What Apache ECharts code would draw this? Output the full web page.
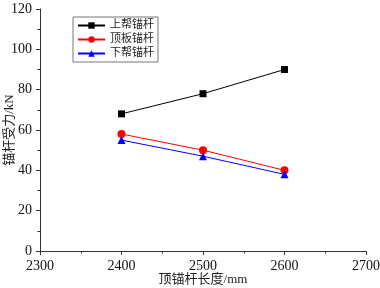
<!DOCTYPE html>
<html>
<head>
<meta charset="utf-8">
<script src="https://cdn.jsdelivr.net/npm/echarts@6/dist/echarts.min.js"></script>
<style>
html,body{margin:0;padding:0;background:#fff;}
#main{width:380px;height:288px;}
</style>
</head>
<body>
<div id="main"></div>
<script>
var xLen = [2400, 2500, 2600];
var upper = [68, 78, 90];     // 上帮锚杆
var roof = [58, 50, 40];      // 顶板锚杆
var lower = [55, 47, 38];     // 下帮锚杆
var names = ['上帮锚杆', '顶板锚杆', '下帮锚杆'];

var font = '"Liberation Serif", "Noto Sans CJK SC", serif';
var chart = echarts.init(document.getElementById('main'));

function pairs(arr) {
	var out = [];
	for (var i = 0; i < xLen.length; i++) out.push([xLen[i], arr[i]]);
	return out;
}

var axisCommon = {
	axisLine: { show: true, lineStyle: { color: '#333', width: 1 } },
	axisTick: { show: true, inside: false, length: 4, lineStyle: { color: '#333' } },
	minorTick: { show: true, splitNumber: 2, length: 2.5, lineStyle: { color: '#333' } },
	splitLine: { show: false },
	axisLabel: { color: '#111', fontFamily: font, fontSize: 14, formatter: function (v) { return String(v); } }
};

var option = {
	animation: false,
	grid: { left: 40, right: 14, top: 9, bottom: 37, containLabel: false, outerBoundsMode: 'none' },
	legend: {
		data: names,
		orient: 'vertical',
		left: 73,
		top: 17,
		itemGap: 3,
		itemWidth: 27,
		itemHeight: 8,
		padding: [3, 4, 3, 4],
		borderColor: '#777',
		borderWidth: 1,
		textStyle: { fontFamily: font, fontSize: 11, color: '#222' }
	},
	xAxis: Object.assign({}, axisCommon, {
		type: 'value',
		min: 2300, max: 2700, interval: 100,
		name: '顶锚杆长度/mm',
		nameLocation: 'middle',
		nameGap: 22,
		nameMoveOverlap: false,
		nameTextStyle: { fontFamily: font, fontSize: 13, color: '#222' }
	}),
	yAxis: Object.assign({}, axisCommon, {
		type: 'value',
		min: 0, max: 120, interval: 20,
		name: '锚杆受力/kN',
		nameLocation: 'middle',
		nameGap: 24,
		nameMoveOverlap: false,
		nameTextStyle: { fontFamily: font, fontSize: 13, color: '#222' }
	}),
	series: [
		{ name: names[0], type: 'line', data: pairs(upper), symbol: 'rect', symbolSize: 7,
		  itemStyle: { color: '#000' }, lineStyle: { color: '#000', width: 1 } },
		{ name: names[1], type: 'line', data: pairs(roof), symbol: 'circle', symbolSize: 8,
		  itemStyle: { color: '#ff0000' }, lineStyle: { color: '#ff0000', width: 1 } },
		{ name: names[2], type: 'line', data: pairs(lower), symbol: 'triangle', symbolSize: 8,
		  itemStyle: { color: '#0000ff' }, lineStyle: { color: '#0000ff', width: 1 } }
	]
};
chart.setOption(option);
</script>
</body>
</html>
